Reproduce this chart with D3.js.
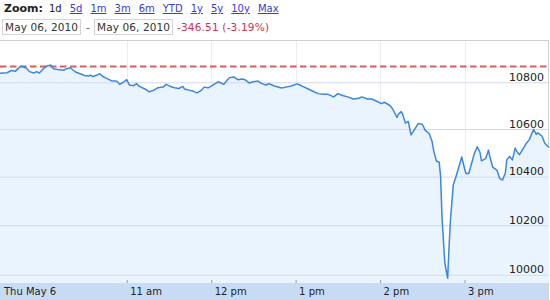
<!DOCTYPE html>
<html>
<head>
<meta charset="utf-8">
<script src="https://cdn.jsdelivr.net/npm/d3@7"></script>
<style>
body { margin:0; background:#fff; }
svg { display:block; font-family:"DejaVu Sans", Verdana, sans-serif; }
</style>
</head>
<body>
<div class="chart"></div>
<script>
// Dow Jones intraday, May 6 2010
const times = ["09:30","09:35","09:38","09:41","09:43","09:45","09:47","09:49","09:51","09:54","09:56","09:58",
"10:01","10:03","10:06","10:08","10:11","10:15","10:17","10:20","10:22","10:24","10:27","10:30","10:33","10:34","10:36","10:39","10:41","10:43","10:46","10:49","10:53","10:55","10:58",
"11:00","11:02","11:05","11:07","11:09","11:13","11:16","11:19","11:22","11:26","11:28","11:31","11:34","11:37","11:40","11:41","11:45","11:47","11:50","11:53","11:55","11:58",
"12:02","12:05","12:09","12:11","12:13","12:16","12:19","12:22","12:24","12:27","12:30","12:33","12:36","12:39","12:41","12:45","12:50","12:54","12:57",
"13:01","13:03","13:05","13:09","13:13","13:16","13:20","13:23","13:27","13:30","13:34","13:37","13:41","13:45","13:47","13:51","13:54","13:58",
"14:01","14:03","14:07","14:09","14:12","14:13","14:15","14:16","14:18","14:20","14:22","14:25","14:27","14:30","14:32","14:35","14:37","14:38","14:40","14:42","14:43","14:44","14:46","14:48","14:49","14:50","14:52","14:54","14:56","14:58",
"15:00","15:01","15:03","15:05","15:07","15:09","15:11","15:12","15:15","15:17","15:18","15:20","15:23","15:25","15:27","15:29","15:30","15:32","15:34","15:36","15:37","15:39","15:41","15:44","15:46","15:49","15:51","15:52","15:55","15:57","16:00"];
const values = [10839,10841,10851,10848,10860,10870,10866,10860,10846,10840,10846,10840,
10860,10869,10875,10858,10855,10852,10858,10863,10852,10843,10837,10829,10827,10831,10825,10831,10837,10825,10816,10807,10804,10791,10802,
10811,10788,10785,10794,10782,10771,10759,10765,10776,10779,10791,10782,10776,10773,10782,10771,10765,10762,10754,10765,10779,10776,
10791,10802,10791,10806,10820,10823,10811,10814,10811,10797,10802,10806,10794,10788,10794,10784,10775,10780,10784,
10793,10788,10782,10771,10759,10751,10748,10748,10737,10751,10742,10737,10728,10731,10737,10728,10728,10717,
10708,10714,10700,10685,10649,10663,10674,10663,10625,10632,10575,10603,10623,10620,10595,10580,10546,10511,10465,10460,10399,10232,10047,9986,10111,10221,10365,10402,10441,10482,
10434,10413,10413,10455,10497,10525,10501,10466,10475,10511,10483,10440,10427,10392,10386,10415,10470,10484,10470,10520,10506,10492,10511,10540,10555,10598,10577,10584,10570,10540,10522];
const prevClose = 10868.12;

const yTicks = [10000,10200,10400,10600,10800];
const xTickTimes = ["11:00","12:00","13:00","14:00","15:00"];
const xTickLabels = ["11 am","12 pm","1 pm","2 pm","3 pm"];
const dayLabel = "Thu May 6";

const zoomLabels = ["1d","5d","1m","3m","6m","YTD","1y","5y","10y","Max"];
const dateFrom = "May 06, 2010", dateTo = "May 06, 2010";
const changeText = "-346.51 (-3.19%)";

const parse = d3.timeParse("%H:%M");
const data = times.map((t,i)=>({t:parse(t), v:values[i]}));

const W = 550, H = 300;
const plot = {left:0, right:548, top:40, bottom:283};

const svg = d3.select(".chart").append("svg")
    .attr("width", W)
    .attr("height", H);

const x = d3.scaleTime()
    .domain([parse("09:30"), parse("16:00")])
    .range([0, 549]);
const y = d3.scaleLog()
    .domain([9967, 10984])
    .range([plot.bottom, plot.top]);

// header
svg.append("text")
    .attr("x",4).attr("y",12)
    .attr("font-size",11).attr("font-weight","bold").attr("fill","#222")
    .text("Zoom:");

let zx = 49;
zoomLabels.forEach((lab,i)=>{
    const t = svg.append("text")
        .attr("x",zx).attr("y",12)
        .attr("font-size",10)
        .attr("fill", i==0 ? "#222" : "#3a3ad6")
        .style("text-decoration", i==0 ? "none" : "underline")
        .text(lab);
    zx += t.node().getComputedTextLength() + 8;
});

svg.append("rect").attr("x",2.5).attr("y",19.5).attr("width",78).attr("height",15)
    .attr("fill","#fff").attr("stroke","#d4d4d4");
svg.append("rect").attr("x",94.5).attr("y",19.5).attr("width",78).attr("height",15)
    .attr("fill","#fff").attr("stroke","#d4d4d4");
svg.append("text").attr("x",5).attr("y",31).attr("font-size",10.5).attr("fill","#333")
    .attr("textLength",73).text(dateFrom);
svg.append("text").attr("x",86).attr("y",31).attr("font-size",10.5).attr("fill","#555").text("-");
svg.append("text").attr("x",97).attr("y",31).attr("font-size",10.5).attr("fill","#333")
    .attr("textLength",73).text(dateTo);
svg.append("text").attr("x",177).attr("y",31).attr("font-size",10.5).attr("fill","#cc3350")
    .attr("textLength",92).text(changeText);

// plot frame
svg.append("line").attr("x1",0).attr("x2",548).attr("y1",40.5).attr("y2",40.5)
    .attr("stroke","#cfcfcf");
svg.append("line").attr("x1",548.5).attr("x2",548.5).attr("y1",40).attr("y2",300)
    .attr("stroke","#cfcfcf");

// vertical grid
svg.selectAll(".vgrid")
    .data(xTickTimes)
    .enter()
    .append("line")
    .attr("class","vgrid")
    .attr("x1",d=>Math.round(x(parse(d)))+0.5)
    .attr("x2",d=>Math.round(x(parse(d)))+0.5)
    .attr("y1",41).attr("y2",plot.bottom)
    .attr("stroke","#ececec");

// area + line
const area = d3.area()
    .x(d=>x(d.t))
    .y0(plot.bottom)
    .y1(d=>y(d.v));
const line = d3.line()
    .x(d=>x(d.t))
    .y(d=>y(d.v));

svg.append("path")
    .datum(data)
    .attr("d",area)
    .attr("fill","#eaf4fe");

// horizontal grid + labels
const yAxis = d3.axisLeft(y)
    .tickValues(yTicks)
    .tickSize(548)
    .tickFormat(d3.format("d"));
const gy = svg.append("g")
    .attr("class","axis y-axis")
    .attr("transform","translate(548,0)")
    .call(yAxis);
gy.select(".domain").remove();
gy.selectAll(".tick line").attr("stroke","#d6d8ef");
gy.selectAll(".tick text")
    .attr("x",-4).attr("dy",-2)
    .attr("text-anchor","end")
    .attr("dominant-baseline","auto")
    .attr("font-family","DejaVu Sans")
    .attr("font-size",11)
    .attr("fill","#222");

svg.append("line")
    .attr("x1",0).attr("x2",548)
    .attr("y1",y(prevClose)).attr("y2",y(prevClose))
    .attr("stroke","#d26060")
    .attr("stroke-width",2)
    .attr("stroke-dasharray","6.5,3.5");

svg.append("path")
    .datum(data)
    .attr("d",line)
    .attr("fill","none")
    .attr("stroke","#3c86e2")
    .attr("stroke-width",1.5)
    .attr("stroke-linejoin","round");

// x axis band
svg.append("rect")
    .attr("x",0).attr("y",plot.bottom)
    .attr("width",548).attr("height",H-plot.bottom)
    .attr("fill","#c7dcf4");

const xAxis = d3.axisBottom(x)
    .tickValues(xTickTimes.map(parse))
    .tickFormat((d,i)=>xTickLabels[i])
    .tickSize(-3);
const gx = svg.append("g")
    .attr("class","axis x-axis")
    .attr("transform",`translate(0,${plot.bottom})`)
    .call(xAxis);
gx.select(".domain").remove();
gx.selectAll(".tick line").attr("stroke","#999");
gx.selectAll(".tick text")
    .attr("x",3).attr("y",12).attr("dy",0)
    .attr("text-anchor","start")
    .attr("font-family","DejaVu Sans")
    .attr("font-size",10)
    .attr("fill","#222");

svg.append("text")
    .attr("x",4).attr("y",295)
    .attr("font-size",10).attr("fill","#222")
    .text(dayLabel);
</script>
</body>
</html>
